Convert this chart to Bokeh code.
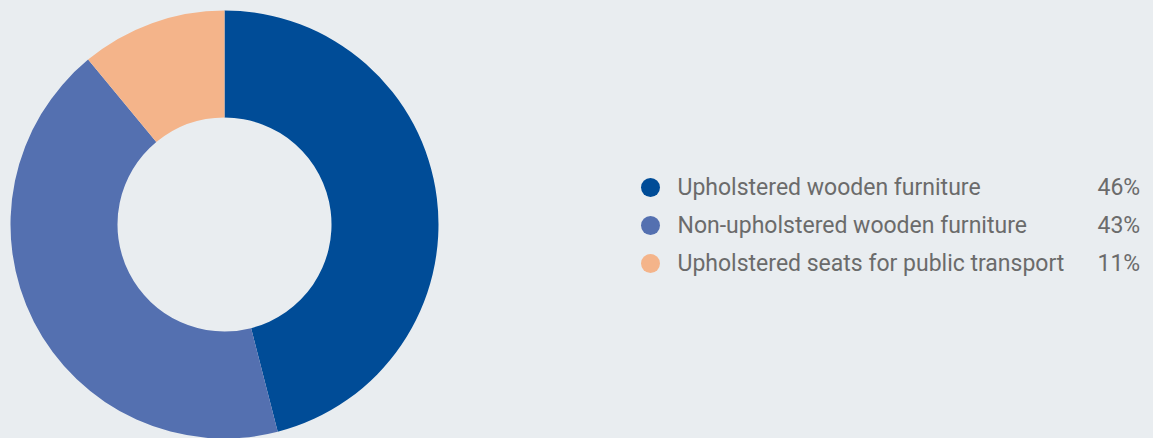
import math
from bokeh.plotting import figure
from bokeh.models import Range1d, ColumnDataSource
from bokeh.core.properties import value
from bokeh.embed import file_html
from bokeh.resources import INLINE

# ---- data ----
categories = [
    "Upholstered wooden furniture",
    "Non-upholstered wooden furniture",
    "Upholstered seats for public transport",
]
shares = [46, 43, 11]
colors = ["#004c97", "#5470b0", "#f4b48a"]
pct_labels = [f"{s}%" for s in shares]

BG = "#e9edf0"
TEXT = "#6b6b6b"
W, H = 1153, 438

p = figure(width=W, height=H, output_backend="svg", toolbar_location=None,
           x_range=Range1d(0, W), y_range=Range1d(0, H), min_border=0,
           background_fill_color=BG, border_fill_color=BG, outline_line_color=None)
p.axis.visible = False
p.grid.visible = False

# picture coords (y down) -> data coords (y up)
def px(x):
    return x

def py(y):
    return H - y

total = sum(shares)
starts, ends = [], []
a = math.pi / 2
for s in shares:
    starts.append(a)
    a -= 2 * math.pi * s / total
    ends.append(a)

src = ColumnDataSource(dict(start=starts, end=ends, color=colors))
p.annular_wedge(x=px(224), y=py(224), inner_radius=107, outer_radius=214,
                start_angle="start", end_angle="end", direction="clock",
                fill_color="color", line_color=None, source=src)

# legend
n = len(categories)
dot_y = [py(187 + 38 * i) for i in range(n)]
txt_y = [py(187 + 38 * i) for i in range(n)]
leg = ColumnDataSource(dict(dx=[px(650)] * n, dy=dot_y, tx=[px(677)] * n,
                            vx=[px(1097)] * n, ty=txt_y, label=categories,
                            pct=pct_labels, color=colors))
p.scatter(x="dx", y="dy", size=19, marker="circle", fill_color="color",
          line_color=None, source=leg)
p.text(x="tx", y="ty", text="label", source=leg, text_font=value("Roboto"),
       text_font_size="23px", text_color=TEXT, text_baseline="alphabetic",
       text_align="left")
p.text(x="vx", y="ty", text="pct", source=leg, text_font=value("Roboto"),
       text_font_size="23px", text_color=TEXT, text_baseline="alphabetic",
       text_align="left")

html = file_html(p, INLINE)
html = html.replace("</head>", f"<style>html,body{{background:{BG};}}</style></head>", 1)
open("out.html", "w").write(html)
